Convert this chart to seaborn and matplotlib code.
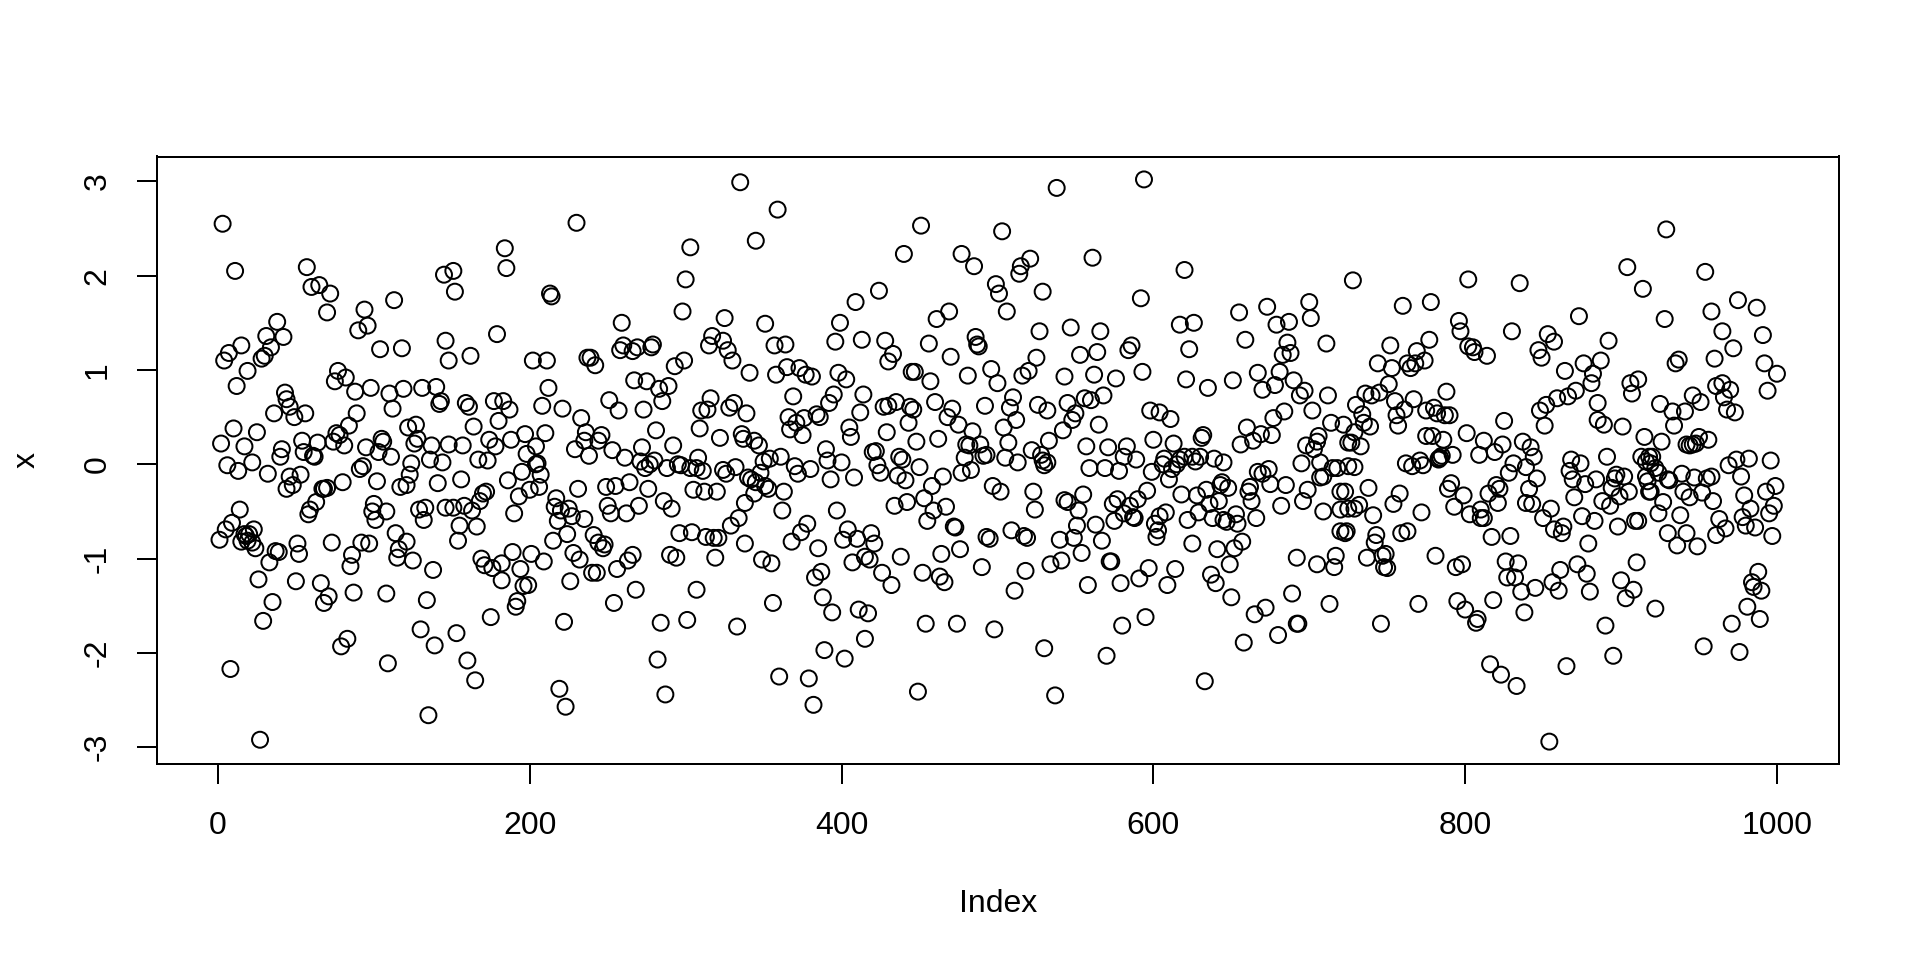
import pandas as pd
import matplotlib
matplotlib.use('Agg')
import matplotlib.pyplot as plt
import seaborn as sns

# (Index, x), one list per stretch of the x axis
part_1 = [(3,2.55),(11,2.05),(57,2.09),(60,1.88),(65,1.90),(72,1.81),(70,1.61),(94,1.64),(96,1.47),(90,1.42),
    (113,1.74),(104,1.22),(118,1.23),(145,2.01),(38,1.51),(31,1.36),(42,1.35),(34,1.24),(15,1.26),(7,1.18),
    (4,1.10),(30,1.15),(28,1.12),(19,0.99),(12,0.83),(77,0.99),(82,0.92),(75,0.88),(88,0.77),(98,0.81),
    (110,0.75),(119,0.80),(131,0.81),(140,0.82),(143,0.67),(142,0.64),(146,1.31),(148,1.10),(43,0.76),(44,0.69),
    (46,0.61),(49,0.50),(56,0.54),(36,0.54),(112,0.59),(89,0.54),(84,0.41),(122,0.39),(127,0.42),(10,0.38),
    (25,0.34),(2,0.22),(17,0.19),(41,0.16),(40,0.08),(54,0.25),(55,0.13),(64,0.23),(61,0.09),(62,0.08),
    (76,0.33),(78,0.31),(74,0.24),(81,0.20),(95,0.18),(105,0.27),(106,0.24),(103,0.13),(111,0.08),(128,0.27),
    (126,0.22),(137,0.20),(136,0.05),(144,0.02),(148,0.21),(124,0.01),(6,-0.01),(13,-0.07),(22,0.02),(32,-0.10),
    (46,-0.13),(53,-0.11),(48,-0.22),(44,-0.26),(93,-0.02),(91,-0.05),(80,-0.19),(68,-0.26),(70,-0.25),(67,-0.26),
    (102,-0.18),(123,-0.11),(121,-0.22),(117,-0.24),(141,-0.20),(14,-0.48),(9,-0.62),(5,-0.69),(1,-0.80),(63,-0.40),
    (59,-0.48),(58,-0.53),(100,-0.42),(99,-0.50),(108,-0.50),(101,-0.59),(129,-0.48),(133,-0.46),(132,-0.59),(146,-0.46),
    (23,-0.69),(20,-0.74),(18,-0.76),(17,-0.74),(15,-0.82),(19,-0.81),(22,-0.83),(24,-0.89),(114,-0.73),(121,-0.82),
    (116,-0.90),(115,-0.99),(125,-1.02),(138,-1.12),(51,-0.84),(52,-0.95),(73,-0.83),(92,-0.83),(97,-0.84),(86,-0.96),
    (85,-1.08),(37,-0.92),(39,-0.93),(33,-1.04),(26,-1.22),(50,-1.24),(66,-1.26),(71,-1.40),(68,-1.47),(87,-1.36),
    (108,-1.37),(134,-1.44),(35,-1.46),(29,-1.66),(130,-1.75),(139,-1.92),(83,-1.85),(79,-1.93),(109,-2.11),(8,-2.17),
    (135,-2.66),(27,-2.92)]

part_2 = [(335,2.99),(230,2.56),(303,2.30),(300,1.96),(184,2.29),(185,2.08),(151,2.05),(152,1.83),(213,1.81),(214,1.78),
    (298,1.62),(259,1.50),(325,1.55),(317,1.36),(315,1.26),(324,1.31),(327,1.21),(330,1.10),(341,0.97),(179,1.38),
    (162,1.15),(202,1.10),(211,1.10),(237,1.13),(239,1.13),(242,1.05),(260,1.26),(258,1.21),(266,1.20),(269,1.24),
    (278,1.24),(279,1.27),(299,1.10),(293,1.04),(267,0.89),(275,0.88),(283,0.80),(289,0.83),(285,0.67),(212,0.81),
    (251,0.68),(257,0.57),(273,0.58),(316,0.70),(310,0.57),(314,0.58),(328,0.60),(331,0.65),(339,0.54),(159,0.65),
    (161,0.61),(177,0.67),(183,0.67),(187,0.58),(208,0.62),(221,0.59),(233,0.49),(180,0.46),(164,0.40),(197,0.32),
    (210,0.33),(188,0.26),(174,0.26),(178,0.19),(157,0.20),(204,0.19),(198,0.11),(167,0.05),(173,0.04),(205,0.01),
    (204,0.00),(236,0.34),(235,0.25),(229,0.16),(238,0.09),(246,0.31),(244,0.25),(253,0.15),(261,0.07),(281,0.36),
    (272,0.18),(292,0.20),(309,0.38),(322,0.28),(336,0.32),(337,0.27),(308,0.07),(271,0.03),(280,0.04),(277,0.00),
    (274,-0.04),(288,-0.04),(295,0.00),(297,-0.01),(303,-0.04),(307,-0.04),(311,-0.07),(324,-0.06),(326,-0.10),(332,-0.03),
    (340,-0.14),(195,-0.08),(207,-0.11),(186,-0.17),(156,-0.16),(206,-0.24),(200,-0.27),(193,-0.34),(172,-0.29),(170,-0.31),
    (168,-0.39),(190,-0.52),(158,-0.44),(151,-0.46),(163,-0.49),(231,-0.26),(249,-0.24),(255,-0.23),(264,-0.19),(276,-0.26),
    (305,-0.27),(312,-0.29),(320,-0.29),(286,-0.39),(291,-0.47),(270,-0.44),(250,-0.44),(252,-0.52),(262,-0.52),(217,-0.36),
    (216,-0.45),(220,-0.49),(225,-0.47),(227,-0.55),(235,-0.58),(218,-0.60),(338,-0.41),(334,-0.57),(329,-0.65),(155,-0.65),
    (166,-0.66),(154,-0.81),(224,-0.74),(215,-0.81),(241,-0.75),(244,-0.83),(248,-0.85),(247,-0.89),(296,-0.73),(304,-0.72),
    (313,-0.77),(318,-0.78),(321,-0.78),(338,-0.84),(169,-1.00),(171,-1.07),(176,-1.10),(182,-1.05),(189,-0.93),(201,-0.95),
    (209,-1.03),(194,-1.11),(182,-1.23),(199,-1.28),(196,-1.29),(192,-1.45),(191,-1.51),(175,-1.62),(228,-0.94),(232,-1.01),
    (240,-1.15),(243,-1.15),(256,-1.11),(266,-0.96),(263,-1.02),(290,-0.96),(294,-0.99),(319,-0.99),(226,-1.24),(268,-1.33),
    (254,-1.47),(307,-1.33),(222,-1.67),(284,-1.68),(301,-1.65),(333,-1.72),(153,-1.79),(160,-2.08),(165,-2.29),(282,-2.07),
    (219,-2.38),(223,-2.57),(287,-2.44)]

part_3 = [(359,2.70),(345,2.37),(451,2.53),(503,2.47),(440,2.23),(477,2.23),(485,2.10),(515,2.10),(521,2.18),(514,2.02),
    (499,1.91),(501,1.81),(529,1.83),(506,1.62),(424,1.84),(409,1.72),(399,1.50),(351,1.49),(469,1.62),(461,1.54),
    (527,1.41),(486,1.35),(487,1.27),(488,1.25),(456,1.28),(470,1.14),(525,1.13),(520,0.99),(516,0.94),(357,1.26),
    (364,1.27),(396,1.30),(413,1.32),(428,1.31),(433,1.17),(430,1.09),(445,0.98),(447,0.98),(457,0.88),(481,0.94),
    (496,1.01),(500,0.86),(358,0.95),(365,1.03),(373,1.02),(377,0.95),(381,0.93),(398,0.97),(403,0.90),(369,0.72),
    (395,0.74),(392,0.65),(414,0.74),(412,0.55),(427,0.61),(430,0.62),(435,0.66),(444,0.61),(446,0.58),(460,0.66),
    (471,0.59),(468,0.50),(475,0.42),(492,0.62),(510,0.71),(508,0.60),(512,0.47),(526,0.63),(532,0.57),(366,0.50),
    (371,0.44),(367,0.37),(376,0.49),(384,0.53),(386,0.50),(375,0.31),(405,0.39),(406,0.29),(443,0.44),(429,0.34),
    (448,0.24),(462,0.27),(484,0.35),(504,0.39),(507,0.23),(344,0.25),(347,0.20),(390,0.16),(391,0.04),(400,0.02),
    (354,0.06),(350,0.03),(361,0.08),(370,-0.02),(372,-0.10),(380,-0.05),(393,-0.16),(408,-0.14),(420,0.13),(422,0.14),
    (437,0.08),(439,0.05),(423,-0.01),(425,-0.09),(436,-0.12),(441,-0.17),(450,-0.03),(465,-0.13),(480,0.21),(482,0.20),
    (489,0.21),(491,0.09),(493,0.10),(479,0.07),(477,-0.09),(483,-0.06),(505,0.07),(513,0.02),(522,0.15),(528,0.10),
    (529,0.04),(530,-0.01),(533,0.25),(532,0.02),(348,-0.09),(345,-0.19),(342,-0.16),(351,-0.23),(353,-0.26),(344,-0.31),
    (363,-0.29),(362,-0.49),(458,-0.23),(453,-0.36),(442,-0.40),(434,-0.44),(467,-0.45),(459,-0.49),(455,-0.60),(497,-0.23),
    (502,-0.29),(523,-0.29),(524,-0.48),(397,-0.49),(378,-0.63),(374,-0.72),(368,-0.82),(404,-0.69),(401,-0.80),(410,-0.79),
    (419,-0.73),(421,-0.84),(472,-0.66),(473,-0.67),(509,-0.70),(517,-0.76),(519,-0.78),(493,-0.77),(495,-0.79),(385,-0.89),
    (349,-1.01),(355,-1.05),(415,-0.98),(418,-1.01),(407,-1.04),(438,-0.98),(464,-0.95),(476,-0.90),(387,-1.14),(383,-1.20),
    (426,-1.15),(432,-1.28),(452,-1.15),(463,-1.19),(466,-1.25),(490,-1.09),(518,-1.13),(534,-1.06),(511,-1.34),(388,-1.41),
    (356,-1.47),(394,-1.57),(411,-1.54),(417,-1.58),(415,-1.85),(454,-1.69),(474,-1.69),(498,-1.75),(389,-1.97),(402,-2.06),
    (530,-1.95),(360,-2.25),(379,-2.27),(382,-2.55),(449,-2.41)]

part_4 = [(538,2.93),(594,3.02),(561,2.19),(620,2.06),(592,1.76),(547,1.45),(566,1.41),(617,1.48),(626,1.50),(655,1.61),
    (673,1.67),(700,1.72),(701,1.55),(687,1.51),(679,1.48),(659,1.32),(686,1.29),(711,1.28),(586,1.26),(584,1.21),
    (564,1.19),(553,1.16),(623,1.22),(683,1.16),(688,1.18),(543,0.93),(562,0.95),(576,0.91),(593,0.98),(621,0.90),
    (635,0.81),(651,0.89),(667,0.97),(681,0.98),(678,0.84),(670,0.79),(690,0.89),(697,0.78),(694,0.73),(712,0.73),
    (702,0.57),(568,0.73),(560,0.68),(556,0.70),(545,0.65),(550,0.54),(548,0.47),(542,0.36),(565,0.42),(598,0.57),
    (604,0.55),(611,0.48),(600,0.26),(613,0.22),(632,0.31),(631,0.28),(557,0.19),(571,0.18),(583,0.19),(581,0.08),
    (589,0.05),(559,-0.04),(569,-0.04),(578,-0.07),(599,-0.08),(607,0.06),(606,0.00),(617,0.05),(620,0.08),(625,0.08),
    (630,0.08),(627,0.03),(615,0.00),(612,-0.05),(610,-0.16),(639,0.06),(645,0.02),(660,0.39),(669,0.32),(664,0.25),
    (656,0.21),(676,0.31),(677,0.49),(684,0.56),(695,0.01),(698,0.20),(706,0.30),(705,0.24),(703,0.16),(714,0.44),
    (722,0.42),(725,0.23),(707,0.02),(718,-0.04),(715,-0.04),(667,-0.08),(670,-0.10),(674,-0.05),(675,-0.21),(685,-0.22),
    (709,-0.13),(707,-0.14),(725,-0.02),(644,-0.19),(643,-0.22),(648,-0.25),(634,-0.27),(628,-0.33),(618,-0.32),(662,-0.24),
    (661,-0.29),(663,-0.39),(642,-0.39),(636,-0.42),(629,-0.51),(622,-0.59),(638,-0.57),(645,-0.59),(647,-0.61),(653,-0.53),
    (654,-0.63),(666,-0.57),(682,-0.44),(699,-0.27),(696,-0.39),(709,-0.50),(720,-0.29),(723,-0.29),(720,-0.48),(725,-0.47),
    (543,-0.38),(545,-0.40),(555,-0.32),(552,-0.49),(577,-0.37),(574,-0.42),(590,-0.37),(596,-0.28),(585,-0.44),(575,-0.60),
    (581,-0.52),(587,-0.56),(588,-0.57),(608,-0.51),(604,-0.55),(601,-0.63),(603,-0.70),(602,-0.77),(551,-0.65),(563,-0.64),
    (549,-0.78),(540,-0.80),(567,-0.81),(554,-0.94),(541,-1.02),(572,-1.03),(573,-1.03),(597,-1.10),(614,-1.11),(625,-0.84),
    (641,-0.90),(652,-0.89),(657,-0.82),(649,-1.06),(637,-1.17),(640,-1.26),(591,-1.21),(579,-1.26),(558,-1.28),(609,-1.28),
    (650,-1.41),(692,-0.99),(705,-1.06),(716,-1.09),(717,-0.97),(720,-0.71),(723,-0.73),(724,-0.71),(689,-1.37),(713,-1.48),
    (672,-1.52),(665,-1.59),(595,-1.62),(580,-1.71),(692,-1.69),(693,-1.69),(680,-1.81),(658,-1.89),(570,-2.03),(537,-2.45),
    (633,-2.30)]

part_5 = [(728,1.95),(802,1.96),(835,1.92),(904,2.09),(914,1.86),(760,1.68),(778,1.72),(796,1.52),(797,1.41),(873,1.57),
    (830,1.41),(853,1.38),(857,1.30),(892,1.31),(777,1.32),(752,1.26),(769,1.20),(774,1.10),(763,1.07),(765,1.02),
    (768,1.07),(744,1.07),(753,1.02),(751,0.85),(802,1.25),(805,1.24),(806,1.19),(814,1.15),(847,1.21),(849,1.13),
    (864,0.99),(876,1.07),(887,1.10),(882,0.96),(881,0.86),(906,0.86),(911,0.90),(907,0.75),(736,0.75),(740,0.73),
    (745,0.76),(755,0.67),(767,0.69),(788,0.77),(730,0.63),(734,0.53),(735,0.44),(739,0.40),(729,0.34),(727,0.23),
    (733,0.19),(761,0.58),(756,0.52),(757,0.41),(775,0.57),(780,0.60),(782,0.54),(787,0.52),(790,0.52),(825,0.46),
    (801,0.33),(775,0.30),(779,0.30),(786,0.26),(812,0.25),(824,0.21),(819,0.13),(809,0.10),(792,0.10),(785,0.09),
    (783,0.06),(784,0.07),(783,0.05),(762,0.01),(766,-0.02),(771,0.04),(773,-0.01),(729,-0.03),(848,0.57),(852,0.63),
    (859,0.70),(866,0.72),(871,0.78),(885,0.65),(885,0.47),(889,0.42),(901,0.40),(851,0.41),(915,0.29),(837,0.24),
    (842,0.18),(844,0.08),(831,0.01),(839,-0.03),(828,-0.09),(846,-0.15),(868,0.05),(874,0.01),(891,0.08),(913,0.08),
    (916,0.03),(918,0.08),(867,-0.07),(869,-0.16),(877,-0.21),(884,-0.16),(897,-0.11),(902,-0.13),(896,-0.15),(894,-0.25),
    (905,-0.29),(899,-0.34),(916,-0.13),(917,-0.18),(918,-0.29),(791,-0.20),(789,-0.26),(799,-0.33),(815,-0.31),(820,-0.22),
    (822,-0.26),(821,-0.41),(841,-0.26),(839,-0.41),(843,-0.42),(738,-0.25),(758,-0.31),(754,-0.42),(732,-0.43),(729,-0.47),
    (741,-0.54),(772,-0.51),(793,-0.45),(803,-0.53),(810,-0.48),(810,-0.57),(812,-0.57),(870,-0.35),(888,-0.39),(893,-0.44),
    (855,-0.47),(850,-0.57),(875,-0.55),(883,-0.60),(898,-0.66),(909,-0.60),(911,-0.60),(857,-0.69),(863,-0.66),(862,-0.73),
    (743,-0.75),(742,-0.83),(759,-0.73),(763,-0.71),(817,-0.77),(829,-0.76),(879,-0.84),(737,-0.99),(749,-0.95),(747,-0.97),
    (748,-1.09),(750,-1.10),(781,-0.97),(794,-1.09),(798,-1.06),(826,-1.03),(834,-1.05),(872,-1.06),(878,-1.16),(861,-1.12),
    (910,-1.04),(827,-1.20),(832,-1.20),(836,-1.35),(845,-1.31),(856,-1.25),(860,-1.34),(900,-1.23),(908,-1.33),(903,-1.42),
    (880,-1.35),(770,-1.48),(795,-1.45),(800,-1.54),(818,-1.44),(838,-1.57),(808,-1.64),(807,-1.68),(746,-1.69),(890,-1.71),
    (816,-2.12),(823,-2.23),(833,-2.35),(865,-2.14),(895,-2.03),(854,-2.94)]

part_6 = [(929,2.49),(954,2.04),(975,1.74),(987,1.66),(958,1.62),(928,1.54),(965,1.41),(991,1.37),(972,1.23),(960,1.12),
    (937,1.11),(935,1.07),(992,1.07),(1000,0.96),(965,0.86),(961,0.83),(970,0.79),(966,0.71),(994,0.78),(946,0.73),
    (951,0.66),(925,0.64),(933,0.56),(941,0.56),(968,0.58),(973,0.55),(934,0.41),(926,0.24),(950,0.29),(956,0.26),
    (942,0.21),(944,0.20),(946,0.21),(948,0.22),(920,0.08),(969,-0.01),(974,0.05),(982,0.06),(996,0.04),(919,0.01),
    (922,-0.04),(924,-0.09),(939,-0.10),(947,-0.14),(931,-0.17),(930,-0.16),(955,-0.15),(958,-0.13),(977,-0.13),(999,-0.23),
    (993,-0.29),(919,-0.29),(940,-0.29),(944,-0.35),(952,-0.30),(959,-0.39),(979,-0.33),(927,-0.40),(924,-0.52),(938,-0.54),
    (983,-0.47),(998,-0.44),(995,-0.52),(978,-0.56),(963,-0.58),(967,-0.68),(980,-0.65),(986,-0.67),(961,-0.75),(930,-0.73),
    (942,-0.73),(936,-0.86),(949,-0.87),(997,-0.76),(988,-1.14),(984,-1.25),(985,-1.30),(990,-1.34),(922,-1.53),(981,-1.51),
    (989,-1.64),(971,-1.69),(953,-1.93),(976,-1.99)]

x_ticks = [0, 200, 400, 600, 800, 1000]
y_ticks = [-3, -2, -1, 0, 1, 2, 3]

df = pd.DataFrame(part_1 + part_2 + part_3 + part_4 + part_5 + part_6, columns=['Index', 'x'])

sns.set_theme(style='white')
plt.rcParams['font.family'] = ['Liberation Sans', 'DejaVu Sans']
plt.rcParams['axes.unicode_minus'] = False

fig = plt.figure(figsize=(9.6, 4.8), dpi=200)
ax = fig.add_axes([157.3/1920, 1 - 763.7/960, (1839.3 - 157.3)/1920, (763.7 - 156.5)/960])

sns.scatterplot(data=df, x='Index', y='x', ax=ax, s=33, facecolor='none', edgecolor='black', linewidth=0.72)

ax.set_xlim(-38.9, 1040)
ax.set_ylim(-3.174, 3.263)
ax.set_xticks(x_ticks)
ax.set_yticks(y_ticks)
ax.tick_params(axis='both', which='major', bottom=True, left=True, length=7.2, width=0.72,
               color='black', labelcolor='black', labelsize=11.5)
ax.tick_params(axis='x', pad=10)
ax.tick_params(axis='y', pad=9)
plt.setp(ax.get_yticklabels(), rotation=90, va='center')
for s in ax.spines.values():
    s.set_color('black')
    s.set_linewidth(0.72)

ax.set_xlabel('Index', fontsize=11.5, color='black')
ax.set_ylabel('x', fontsize=11.5, color='black')
ax.xaxis.set_label_coords(0.5, -(903.5 - 763.7)/607.2, transform=ax.transAxes)
ax.yaxis.set_label_coords(-(157.3 - 27)/1682, 0.5, transform=ax.transAxes)
ax.xaxis.label.set_va('center')
ax.yaxis.label.set_va('center')

fig.savefig('out.png', dpi=200)
